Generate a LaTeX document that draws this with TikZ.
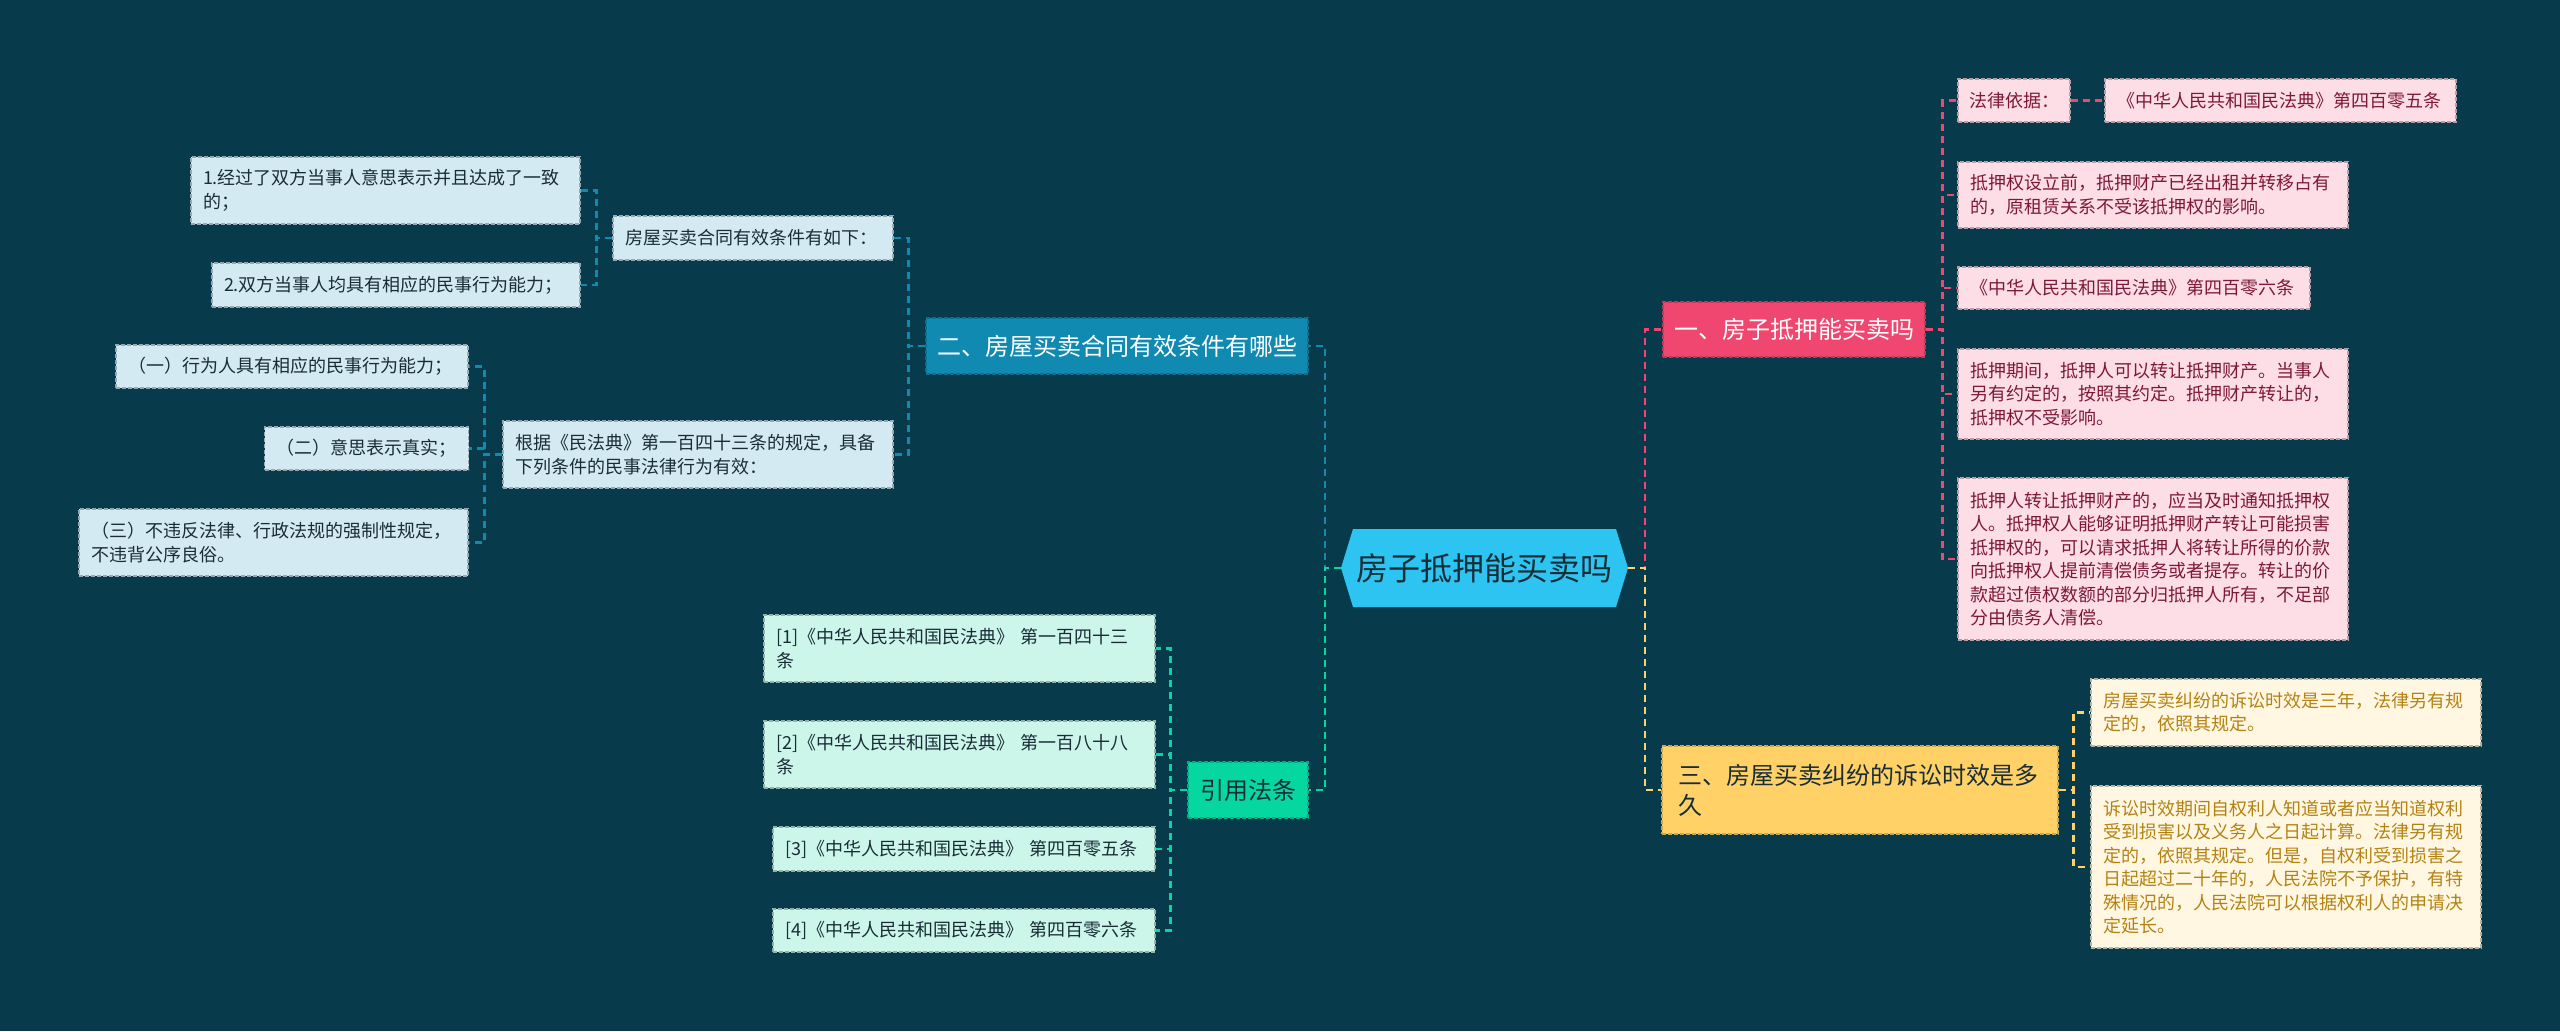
\documentclass[tikz,border=0pt]{standalone}
\usepackage{fontspec}
\setmainfont{Noto Sans CJK SC}
\definecolor{bgc}{RGB}{7,59,76}
\definecolor{ctrc}{RGB}{46,196,242}
\definecolor{pinkc}{RGB}{239,71,111}
\definecolor{bluec}{RGB}{17,138,178}
\definecolor{yelc}{RGB}{255,209,102}
\definecolor{grnc}{RGB}{6,214,160}
\definecolor{pinkl}{RGB}{253,222,230}
\definecolor{bluel}{RGB}{212,234,242}
\definecolor{yell}{RGB}{255,247,226}
\definecolor{grnl}{RGB}{205,246,235}
\definecolor{pinkt}{RGB}{125,25,55}
\definecolor{yelt}{RGB}{180,130,20}
\definecolor{darkt}{RGB}{25,45,55}
\begin{document}
\begin{tikzpicture}[x=1pt,y=-1pt,
  leaf/.style={draw=#1!72!black, fill=#1, line width=1.2pt, dash pattern=on 4pt off 2pt,
    inner xsep=12pt, inner ysep=3pt, align=left, font=\fontsize{18pt}{23.5pt}\selectfont},
  leafb/.style={leaf=bluel, text=darkt},
  leafg/.style={leaf=grnl, text=darkt},
  leafp/.style={leaf=pinkl, text=pinkt},
  leafy/.style={leaf=yell, text=yelt},
  br/.style={draw=#1!80!black, fill=#1, line width=1.2pt, dash pattern=on 4pt off 2pt,
    inner xsep=11pt, inner ysep=3pt, align=left, font=\fontsize{24pt}{30pt}\selectfont},
  lnk/.style={draw=#1, line width=2.5pt, dash pattern=on 7pt off 5pt}]
\fill[bgc] (0,0) rectangle (2560,1031);
% centre
\fill[ctrc] (1341,568) -- (1353,529) -- (1616,529) -- (1628,568) -- (1616,607) -- (1353,607) -- cycle;
\node[minimum width=287pt, minimum height=78pt, inner sep=0pt, text=darkt,
  font=\fontsize{32pt}{36pt}\selectfont] (ctr) at (1484.5,568) {房子抵押能买卖吗};
% branches
\node[br=bluec, text=white, text width=360pt, minimum height=56pt] (b2) at (1117,346) {二、房屋买卖合同有效条件有哪些};
\node[br=grnc, text=darkt, text width=96pt, inner xsep=12pt, minimum height=56pt] (b4) at (1248,790) {引用法条};
\node[br=pinkc, text=white, text width=240pt, minimum height=55pt] (b1) at (1794,329.5) {一、房子抵押能买卖吗};
\node[br=yelc, text=darkt, text width=364pt, inner xsep=16pt, minimum height=88pt] (b3) at (1860,790) {三、房屋买卖纠纷的诉讼时效是多\\久};
% left, blue
\node[leafb, text width=256pt, minimum height=44pt] (p1) at (753,238) {房屋买卖合同有效条件有如下：};
\node[leafb, text width=366pt, minimum height=67pt] (p2) at (698,454.5) {根据《民法典》第一百四十三条的规定，具备\\下列条件的民事法律行为有效：};
\node[leafb, text width=365pt, minimum height=67pt] (a1) at (385.5,190.5) {1.经过了双方当事人意思表示并且达成了一致\\的；};
\node[leafb, text width=344pt, minimum height=44pt] (a2) at (396,285) {2.双方当事人均具有相应的民事行为能力；};
\node[leafb, text width=328pt, minimum height=43pt] (c1) at (292,366.5) {（一）行为人具有相应的民事行为能力；};
\node[leafb, text width=180pt, minimum height=43pt] (c2) at (366.5,448.5) {（二）意思表示真实；};
\node[leafb, text width=365pt, minimum height=67pt] (c3) at (273.5,542.5) {（三）不违反法律、行政法规的强制性规定，\\不违背公序良俗。};
% left, green
\node[leafg, text width=367pt, minimum height=67pt] (d1) at (959.5,648.5) {[1]《中华人民共和国民法典》 第一百四十三\\条};
\node[leafg, text width=367pt, minimum height=67pt] (d2) at (959.5,754.5) {[2]《中华人民共和国民法典》 第一百八十八\\条};
\node[leafg, text width=358pt, minimum height=44pt] (d3) at (964,849) {[3]《中华人民共和国民法典》 第四百零五条};
\node[leafg, text width=358pt, minimum height=43pt] (d4) at (964,930.5) {[4]《中华人民共和国民法典》 第四百零六条};
% right, pink
\node[leafp, text width=90pt, inner xsep=11pt, minimum height=43pt] (e1) at (2014,100.5) {法律依据：};
\node[leafp, text width=327pt, minimum height=43pt] (e1b) at (2280.5,100.5) {《中华人民共和国民法典》第四百零五条};
\node[leafp, text width=366pt, minimum height=66pt] (e2) at (2153,195) {抵押权设立前，抵押财产已经出租并转移占有\\的，原租赁关系不受该抵押权的影响。};
\node[leafp, text width=328pt, minimum height=42pt] (e3) at (2134,288) {《中华人民共和国民法典》第四百零六条};
\node[leafp, text width=366pt, minimum height=90pt] (e4) at (2153,394) {抵押期间，抵押人可以转让抵押财产。当事人\\另有约定的，按照其约定。抵押财产转让的，\\抵押权不受影响。};
\node[leafp, text width=366pt, minimum height=162pt] (e5) at (2153,559) {抵押人转让抵押财产的，应当及时通知抵押权\\人。抵押权人能够证明抵押财产转让可能损害\\抵押权的，可以请求抵押人将转让所得的价款\\向抵押权人提前清偿债务或者提存。转让的价\\款超过债权数额的部分归抵押人所有，不足部\\分由债务人清偿。};
% right, yellow
\node[leafy, text width=366pt, minimum height=67pt] (f1) at (2286,712.5) {房屋买卖纠纷的诉讼时效是三年，法律另有规\\定的，依照其规定。};
\node[leafy, text width=366pt, minimum height=162pt] (f2) at (2286,867) {诉讼时效期间自权利人知道或者应当知道权利\\受到损害以及义务人之日起计算。法律另有规\\定的，依照其规定。但是，自权利受到损害之\\日起超过二十年的，人民法院不予保护，有特\\殊情况的，人民法院可以根据权利人的申请决\\定延长。};
% connectors
\draw[lnk=bluec] (ctr.west) -- ++(-16,0) |- (b2.east);
\draw[lnk=grnc] (ctr.west) -- ++(-16,0) |- (b4.east);
\draw[lnk=pinkc] (ctr.east) -- ++(17,0) |- (b1.west);
\draw[lnk=yelc] (ctr.east) -- ++(17,0) |- (b3.west);
\foreach \k in {p1,p2} \draw[lnk=bluec] (b2.west) -- ++(-17,0) |- (\k.east);
\foreach \k in {a1,a2} \draw[lnk=bluec] (p1.west) -- ++(-16,0) |- (\k.east);
\foreach \k in {c1,c2,c3} \draw[lnk=bluec] (p2.west) -- ++(-18,0) |- (\k.east);
\foreach \k in {d1,d2,d3,d4} \draw[lnk=grnc] (b4.west) -- ++(-17,0) |- (\k.east);
\foreach \k in {e1,e2,e3,e4,e5} \draw[lnk=pinkc] (b1.east) -- ++(17,0) |- (\k.west);
\draw[lnk=pinkc] (e1.east) -- ++(18,0) |- (e1b.west);
\foreach \k in {f1,f2} \draw[lnk=yelc] (b3.east) -- ++(15,0) |- (\k.west);
\end{tikzpicture}
\end{document}
